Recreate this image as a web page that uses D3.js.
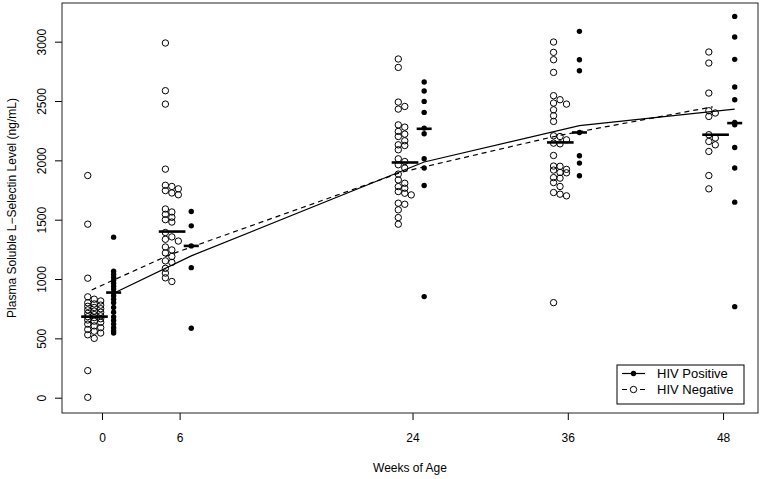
<!DOCTYPE html>
<html>
<head>
<meta charset="utf-8">
<script src="https://cdn.jsdelivr.net/npm/d3@7"></script>
<style>
  html, body { margin: 0; padding: 0; background: #fff; }
  svg { display: block; font-family: "Liberation Sans", Arial, Helvetica, sans-serif; }
</style>
</head>
<body>
<svg id="chart" width="763" height="479"></svg>
<script>
// ---------------- data ----------------
const weeks = [0, 6, 24, 36, 48];
const weekTickLabels = ["0", "6", "24", "36", "48"];
const yTicks = [0, 500, 1000, 1500, 2000, 2500, 3000];
const yTickLabels = ["0", "500", "1000", "1500", "2000", "2500", "3000"];

// HIV negative (open circles) by week
const neg0  = [1872, 1462, 1007, 228, 3, 850, 830, 815, 800, 790, 780, 770, 760, 750, 740, 730, 720, 710, 700, 690, 683, 675, 665, 655, 645, 635, 620, 605, 590, 575, 560, 545, 530, 500];
const neg6  = [2989, 2587, 2474, 1926, 1790, 1780, 1760, 1745, 1725, 1710, 1590, 1565, 1545, 1520, 1500, 1480, 1392, 1355, 1335, 1320, 1270, 1245, 1220, 1190, 1153, 1140, 1090, 1050, 1010, 979];
const neg24 = [2854, 2783, 2491, 2454, 2432, 2299, 2280, 2244, 2221, 2201, 2165, 2131, 2125, 2089, 2013, 1990, 1963, 1935, 1884, 1835, 1807, 1779, 1765, 1737, 1723, 1709, 1639, 1630, 1583, 1518, 1462];
const neg36 = [2997, 2910, 2848, 2741, 2545, 2511, 2483, 2474, 2426, 2376, 2328, 2207, 2201, 2173, 2145, 2139, 2041, 1952, 1950, 1924, 1918, 1898, 1895, 1855, 1850, 1813, 1780, 1729, 1715, 1701, 801];
const neg48 = [2913, 2820, 2567, 2418, 2399, 2370, 2216, 2188, 2159, 2131, 2075, 1872, 1760];

// HIV positive (filled dots) by week
const pos0  = [1353, 1065, 1040, 1015, 990, 965, 940, 915, 886, 860, 830, 800, 760, 720, 680, 650, 620, 590, 565, 545];
const pos6  = [1569, 1448, 1279, 1096, 585];
const pos24 = [2660, 2584, 2497, 2404, 2272, 2224, 2013, 1935, 1788, 852];
const pos36 = [3087, 2848, 2755, 2235, 2039, 1977, 1870];
const pos48 = [3213, 3039, 2851, 2618, 2511, 2319, 2300, 2108, 1935, 1648, 767];

// group medians (horizontal bars)
const negMedian = [683, 1400, 1982, 2151, 2216];
const posMedian = [886, 1279, 2266, 2235, 2314];

// fitted curves
const posFit = [880, 1195, 1986, 2292, 2432];
const negFit = [908, 1203, 1902, 2207, 2451];

const seriesLabels = ["HIV Positive", "HIV Negative"];
const xTitle = "Weeks of Age";
const yTitle = "Plasma Soluble L\u2212Selectin Level (ng/mL)";

// ---------------- layout ----------------
const negGroups = [neg0, neg6, neg24, neg36, neg48];
const posGroups = [pos0, pos6, pos24, pos36, pos48];
const plot = { left: 62, right: 758, top: 3, bottom: 413 };
const svg = d3.select("#chart");

const x = d3.scaleLinear().domain([-3.09, 50.7]).range([plot.left, plot.right]);
const y = d3.scaleLinear().domain([-129, 3326]).range([plot.bottom, plot.top]);

const NEG_OFF = -1.1, POS_OFF = 0.9, COL_STEP = 0.5;

function assignCols(vals, nCols, thresh) {
  const order = vals.map((v, i) => i).sort((a, b) => vals[b] - vals[a]);
  const cols = d3.range(nCols).map(() => []);
  const res = [];
  order.forEach(i => {
    const v = vals[i];
    let chosen = -1;
    for (let c = 0; c < nCols; c++) {
      if (cols[c].every(u => Math.abs(u - v) >= thresh)) { chosen = c; break; }
    }
    if (chosen < 0) {
      let bd = -1;
      cols.forEach((arr, c) => {
        const md = d3.min(arr, u => Math.abs(u - v));
        if (md > bd) { bd = md; chosen = c; }
      });
    }
    cols[chosen].push(v);
    res[i] = chosen;
  });
  return res;
}

// ---------------- axes ----------------
const xAxis = svg.append("g")
  .attr("transform", `translate(0,${plot.bottom})`)
  .call(d3.axisBottom(x).tickValues(weeks).tickFormat((d, i) => weekTickLabels[i]).tickSize(7).tickPadding(13));
xAxis.select(".domain").remove();
xAxis.selectAll("text").attr("font-size", 12).attr("fill", "#000").attr("font-family", "Liberation Sans, Arial, sans-serif");
xAxis.selectAll("line").attr("stroke", "#000");

const yAxis = svg.append("g")
  .attr("transform", `translate(${plot.left},0)`)
  .call(d3.axisLeft(y).tickValues(yTicks).tickFormat((d, i) => yTickLabels[i]).tickSize(7));
yAxis.select(".domain").remove();
yAxis.selectAll("line").attr("stroke", "#000");
yAxis.selectAll("text")
  .attr("x", null).attr("dy", null)
  .attr("transform", "translate(-16,0) rotate(-90)")
  .attr("text-anchor", "middle")
  .attr("font-size", 12).attr("fill", "#000").attr("font-family", "Liberation Sans, Arial, sans-serif");

// box
svg.append("rect")
  .attr("x", plot.left).attr("y", plot.top)
  .attr("width", plot.right - plot.left).attr("height", plot.bottom - plot.top)
  .attr("fill", "none").attr("stroke", "#222").attr("stroke-width", 1);

// titles
svg.append("text").attr("x", (plot.left + plot.right) / 2).attr("y", 472)
  .attr("text-anchor", "middle").attr("font-size", 12).text(xTitle);
svg.append("text").attr("transform", `translate(16,${(plot.top + plot.bottom) / 2}) rotate(-90)`)
  .attr("text-anchor", "middle").attr("font-size", 12).text(yTitle);

// ---------------- fitted lines ----------------
const lineGen = d3.line().x(d => x(d[0])).y(d => y(d[1]));
svg.append("path")
  .datum(weeks.map((w, i) => [w + POS_OFF, posFit[i]]))
  .attr("d", lineGen).attr("fill", "none").attr("stroke", "#000").attr("stroke-width", 1.2);
svg.append("path")
  .datum(weeks.map((w, i) => [w + NEG_OFF + 0.3, negFit[i]]))
  .attr("d", lineGen).attr("fill", "none").attr("stroke", "#000").attr("stroke-width", 1.2)
  .attr("stroke-dasharray", "5,4");

// ---------------- points ----------------
weeks.forEach((w, gi) => {
  const vals = negGroups[gi];
  const cols = assignCols(vals, 3, 40);
  svg.append("g").selectAll("circle").data(vals).join("circle")
    .attr("cx", (d, i) => x(w + NEG_OFF + COL_STEP * cols[i]))
    .attr("cy", d => y(d))
    .attr("r", 3.2)
    .attr("fill", "none").attr("stroke", "#000").attr("stroke-width", 1);

  svg.append("g").selectAll("circle").data(posGroups[gi]).join("circle")
    .attr("cx", x(w + POS_OFF))
    .attr("cy", d => y(d))
    .attr("r", 2.7)
    .attr("fill", "#000");
});

// medians
svg.append("g").selectAll("line").data(weeks).join("line")
  .attr("x1", w => x(w + NEG_OFF - 0.51)).attr("x2", w => x(w + NEG_OFF + 1.55))
  .attr("y1", (w, i) => y(negMedian[i])).attr("y2", (w, i) => y(negMedian[i]))
  .attr("stroke", "#000").attr("stroke-width", 2.6);
svg.append("g").selectAll("line").data(weeks).join("line")
  .attr("x1", w => x(w + POS_OFF - 0.58)).attr("x2", w => x(w + POS_OFF + 0.58))
  .attr("y1", (w, i) => y(posMedian[i])).attr("y2", (w, i) => y(posMedian[i]))
  .attr("stroke", "#000").attr("stroke-width", 2.6);

// ---------------- legend ----------------
const lg = svg.append("g").attr("transform", "translate(617,365)");
lg.append("rect").attr("width", 127).attr("height", 39)
  .attr("fill", "#fff").attr("stroke", "#000").attr("stroke-width", 1);
const rows = [
  { label: seriesLabels[0], dash: null, filled: true },
  { label: seriesLabels[1], dash: "5,4", filled: false }
];
rows.forEach((r, i) => {
  const cy = 8.5 + i * 16;
  lg.append("line").attr("x1", 5).attr("x2", 28).attr("y1", cy).attr("y2", cy)
    .attr("stroke", "#000").attr("stroke-width", 1.2)
    .attr("stroke-dasharray", r.dash);
  lg.append("circle").attr("cx", 16.5).attr("cy", cy).attr("r", r.filled ? 2.7 : 3.2)
    .attr("fill", r.filled ? "#000" : "#fff").attr("stroke", "#000").attr("stroke-width", r.filled ? 0 : 1);
  lg.append("text").attr("x", 40).attr("y", cy + 4.5).attr("font-size", 13).text(r.label);
});
</script>
</body>
</html>
